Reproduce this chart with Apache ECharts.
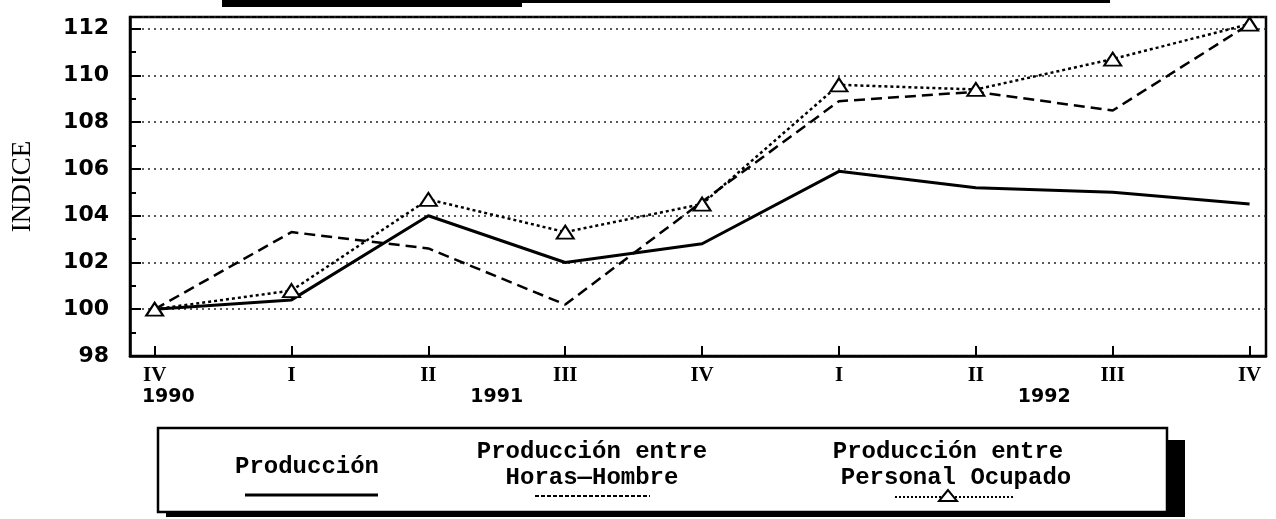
<!DOCTYPE html>
<html>
<head>
<meta charset="utf-8">
<script src="https://cdn.jsdelivr.net/npm/echarts@6/dist/echarts.min.js"></script>
<style>
  html, body { margin: 0; padding: 0; background: #fff; }
  #chart { width: 1276px; height: 519px; }
</style>
</head>
<body>
<div id="chart"></div>
<script>
// quarters IV-1990 .. IV-1992
const quarters = ["IV", "I", "II", "III", "IV", "I", "II", "III", "IV"];
const years = ["1990", "1991", "1992"];
const yearPos = [0.1, 2.5, 6.5];

const produccion = [100.0, 100.4, 104.0, 102.0, 102.8, 105.9, 105.2, 105.0, 104.5];
const horasHombre = [100.0, 103.3, 102.6, 100.2, 104.6, 108.9, 109.3, 108.5, 112.2];
const personalOcupado = [100.0, 100.8, 104.7, 103.3, 104.5, 109.6, 109.4, 110.7, 112.2];

const qIdx = quarters.map((q, i) => i);
const toPairs = (arr) => arr.map((v, i) => [i, v]);

const numFont = "DejaVu Sans";
const legFont = "Liberation Mono";

var chart = echarts.init(document.getElementById("chart"));

var options = {
  animation: false,
  backgroundColor: "#fff",
  grid: {
    left: 130,
    right: 10,
    top: 17,
    bottom: 163,
    show: true,
    borderColor: "#000",
    borderWidth: 2.5,
  },
  xAxis: [
    {
      type: "value",
      min: -0.18,
      max: 8.12,
      position: "bottom",
      axisLine: { show: true, onZero: false, lineStyle: { color: "#000", width: 2.5 } },
      splitLine: { show: false },
      axisTick: {
        show: true,
        inside: true,
        length: 10,
        customValues: qIdx,
        lineStyle: { color: "#000", width: 2 },
      },
      axisLabel: {
        customValues: qIdx,
        formatter: (v) => quarters[Math.round(v)],
        margin: 9,
        fontFamily: "Liberation Serif",
        fontWeight: "bold",
        fontSize: 21,
        color: "#000",
      },
    },
    {
      type: "value",
      min: -0.18,
      max: 8.12,
      position: "bottom",
      axisLine: { show: false, onZero: false },
      axisTick: { show: false },
      splitLine: { show: false },
      axisLabel: {
        customValues: yearPos,
        formatter: (v) => years[yearPos.indexOf(v)],
        margin: 32,
        fontFamily: numFont,
        fontWeight: "bold",
        fontSize: 19,
        color: "#000",
      },
    },
  ],
  yAxis: [
    {
      type: "value",
      min: 98,
      max: 112.5,
      interval: 2,
      name: "INDICE",
      nameLocation: "middle",
      nameGap: 94,
      nameTextStyle: {
        fontFamily: "Liberation Serif",
        fontSize: 27,
        color: "#000",
      },
      axisLine: { show: true, onZero: false, lineStyle: { color: "#000", width: 2.5 } },
      axisTick: {
        show: true,
        inside: true,
        length: 11,
        lineStyle: { color: "#000", width: 2 },
      },
      axisLabel: {
        margin: 21,
        formatter: (v) => (Number.isInteger(v) ? String(v) : ""),
        fontFamily: numFont,
        fontWeight: "bold",
        fontSize: 22,
        color: "#000",
      },
      splitLine: {
        show: true,
        lineStyle: { color: "#222", width: 1.5, type: [2, 4] },
      },
    },
    {
      type: "value",
      min: 98,
      max: 112.5,
      interval: 1,
      position: "left",
      axisLine: { show: false, onZero: false },
      axisLabel: { show: false },
      splitLine: { show: false },
      axisTick: {
        show: true,
        inside: true,
        length: 6,
        lineStyle: { color: "#000", width: 2 },
      },
    },
  ],
  series: [
    {
      name: "Producción",
      type: "line",
      data: toPairs(produccion),
      symbol: "none",
      lineStyle: { color: "#000", width: 3 },
      z: 3,
    },
    {
      name: "Producción entre Horas—Hombre",
      type: "line",
      data: toPairs(horasHombre),
      symbol: "none",
      lineStyle: { color: "#000", width: 2.5, type: [11, 6] },
      z: 4,
    },
    {
      name: "Producción entre Personal Ocupado",
      type: "line",
      data: toPairs(personalOcupado),
      symbol: "triangle",
      symbolSize: [17, 13],
      showAllSymbol: true,
      itemStyle: { color: "#fff", borderColor: "#000", borderWidth: 2 },
      lineStyle: { color: "#000", width: 2.5, type: [3, 3] },
      z: 5,
    },
  ],
  graphic: [
    // scanned title box remnant at the top
    { type: "rect", shape: { x: 222, y: 0, width: 300, height: 7 }, style: { fill: "#000" } },
    { type: "rect", shape: { x: 520, y: 0, width: 590, height: 3 }, style: { fill: "#000" } },
    // legend box with shadow
    { type: "rect", shape: { x: 1167, y: 440, width: 18, height: 77 }, style: { fill: "#000" } },
    { type: "rect", shape: { x: 166, y: 511, width: 1019, height: 6 }, style: { fill: "#000" } },
    {
      type: "rect",
      shape: { x: 158, y: 428, width: 1009, height: 84 },
      style: { fill: "#fff", stroke: "#000", lineWidth: 2.5 },
      z: 10,
    },
    {
      type: "text", x: 307, y: 467, z: 11,
      style: { text: "Producción", font: "bold 24px " + legFont, fill: "#000", align: "center", verticalAlign: "middle" },
    },
    {
      type: "line", z: 11,
      shape: { x1: 245, y1: 495, x2: 378, y2: 495 },
      style: { stroke: "#000", lineWidth: 3 },
    },
    {
      type: "text", x: 592, y: 452, z: 11,
      style: { text: "Producción entre", font: "bold 24px " + legFont, fill: "#000", align: "center", verticalAlign: "middle" },
    },
    {
      type: "text", x: 592, y: 478, z: 11,
      style: { text: "Horas—Hombre", font: "bold 24px " + legFont, fill: "#000", align: "center", verticalAlign: "middle" },
    },
    {
      type: "line", z: 11,
      shape: { x1: 535, y1: 496, x2: 650, y2: 496 },
      style: { stroke: "#000", lineWidth: 2, lineDash: [4, 2] },
    },
    {
      type: "text", x: 948, y: 452, z: 11,
      style: { text: "Producción entre", font: "bold 24px " + legFont, fill: "#000", align: "center", verticalAlign: "middle" },
    },
    {
      type: "text", x: 956, y: 478, z: 11,
      style: { text: "Personal Ocupado", font: "bold 24px " + legFont, fill: "#000", align: "center", verticalAlign: "middle" },
    },
    {
      type: "line", z: 11,
      shape: { x1: 895, y1: 497, x2: 1015, y2: 497 },
      style: { stroke: "#000", lineWidth: 2, lineDash: [2, 2] },
    },
    {
      type: "polygon", z: 12,
      shape: { points: [[948, 490], [939, 501], [957, 501]] },
      style: { fill: "#fff", stroke: "#000", lineWidth: 2 },
    },
  ],
};

chart.setOption(options);
</script>
</body>
</html>
